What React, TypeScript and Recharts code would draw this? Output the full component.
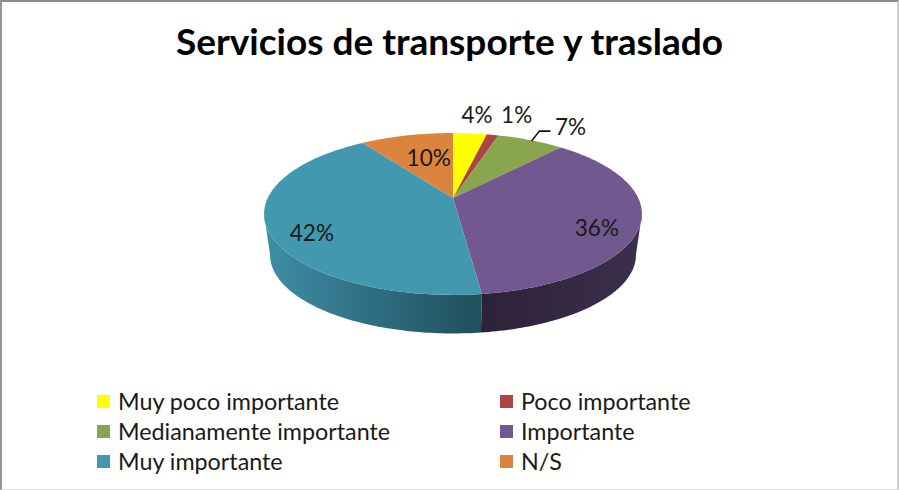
import { PieChart, Pie, Legend } from "recharts";

const TITLE = "Servicios de transporte y traslado";
const CATEGORIES = [
  "Muy poco importante",
  "Poco importante",
  "Medianamente importante",
  "Importante",
  "Muy importante",
  "N/S",
];
const VALUES = [3.5, 1.2, 6.9, 36.4, 42.4, 9.6];
const COLORS = ["#ffff00", "#aa4643", "#89a54e", "#71588f", "#4198af", "#db843d"];
const WALL_GRADIENTS: Record<number, [string, string]> = {
  3: ["#2c2238", "#3c2f4c"],
  4: ["#3f8ea6", "#204e5c"],
};
// label offset from the rim point at each slice's mid angle
const LABEL_OFFSETS = [
  [7, -19],
  [24, -20],
  [40, -14],
  [-44, 5],
  [45, 5],
  [22, 22],
];

const FONT = "Lato, 'Open Sans', sans-serif";
const CX = 453;
const CY = 198;
const RADIUS = 189;
const TILT = 0.197; // perspective of the disc
const STRETCH_X = 0.98;
const STRETCH_Y = 0.4116;
const WALL_DROP = 41;
const WALL_SCALE_X = 183 / 189;
const WALL_SCALE_Y = 0.97;
const ELLIPSE_CY = 214;

const chartData = CATEGORIES.map((name, i) => ({ name, value: VALUES[i], fill: COLORS[i] }));

// theta: degrees clockwise from 12 o'clock
function rim(theta: number) {
  const t = (theta * Math.PI) / 180;
  const u = Math.sin(t);
  const v = -Math.cos(t);
  const w = 1 - TILT * v;
  return {
    x: CX + (RADIUS * STRETCH_X * u) / w,
    y: CY + (RADIUS * STRETCH_Y * v) / w,
  };
}

function rimBottom(theta: number) {
  const p = rim(theta);
  return {
    x: CX + (p.x - CX) * WALL_SCALE_X,
    y: ELLIPSE_CY + WALL_DROP + (p.y - ELLIPSE_CY) * WALL_SCALE_Y,
  };
}

function sample(from: number, to: number, fn: (t: number) => { x: number; y: number }) {
  const n = Math.max(2, Math.ceil(Math.abs(to - from)));
  const out: string[] = [];
  for (let i = 0; i <= n; i++) {
    const p = fn(from + ((to - from) * i) / n);
    out.push(`${p.x.toFixed(2)} ${p.y.toFixed(2)}`);
  }
  return out;
}

const FRONT_START = (Math.acos(-TILT) * 180) / Math.PI;
const FRONT_END = 360 - FRONT_START;

function Slice3D(props: any) {
  const from = 90 - props.startAngle;
  const to = 90 - props.endAngle;
  const idx = CATEGORIES.indexOf(props.name);
  const top = `M${CX} ${CY} L${sample(from, to, rim).join(" L")} Z`;

  const wallFrom = Math.max(from, FRONT_START);
  const wallTo = Math.min(to, FRONT_END);
  let wall = null;
  if (wallTo > wallFrom) {
    const grad = WALL_GRADIENTS[idx] ?? [props.fill, props.fill];
    const id = `wall-${idx}`;
    const path = `M${sample(wallFrom, wallTo, rim).join(" L")} L${sample(wallTo, wallFrom, rimBottom).join(" L")} Z`;
    wall = (
      <g>
        <defs>
          <linearGradient id={id} x1="0" y1="0" x2="1" y2="0">
            <stop offset="0%" stopColor={grad[0]} />
            <stop offset="100%" stopColor={grad[1]} />
          </linearGradient>
        </defs>
        <path d={path} fill={`url(#${id})`} />
      </g>
    );
  }
  return (
    <g>
      {wall}
      <path d={top} fill={props.fill} />
    </g>
  );
}

function SliceLabel(props: any) {
  const { index, midAngle, percent } = props;
  const anchor = rim(90 - midAngle);
  const [dx, dy] = LABEL_OFFSETS[index];
  const x = anchor.x + dx;
  const y = anchor.y + dy;
  return (
    <g>
      {index === 2 && (
        <path
          d={`M${anchor.x + 1} ${anchor.y + 1} L${anchor.x + 9} ${anchor.y - 9} L${anchor.x + 20} ${anchor.y - 9}`}
          fill="none"
          stroke="#111"
          strokeWidth={1.6}
        />
      )}
      <text x={x} y={y} textAnchor="middle" dominantBaseline="central" fontFamily={FONT} fontSize={22.5} fill="#1a1a1a">
        {`${Math.round(percent * 100)}%`}
      </text>
    </g>
  );
}

function LegendGrid({ payload }: any) {
  return (
    <div
      style={{
        display: "grid",
        gridTemplateColumns: "403px 220px",
        gridAutoRows: "30px",
        fontFamily: FONT,
        fontSize: 23.3,
        color: "#1a1a1a",
      }}
    >
      {(payload ?? []).map((entry: any) => (
        <div key={entry.value} style={{ display: "flex", alignItems: "center", whiteSpace: "nowrap" }}>
          <span style={{ width: 13, height: 13, background: entry.color, marginRight: 8, flexShrink: 0 }} />
          {entry.value}
        </div>
      ))}
    </div>
  );
}

export default function App() {
  return (
    <div
      style={{
        position: "absolute",
        left: 0,
        top: 0,
        width: 899,
        height: 490,
        boxSizing: "border-box",
        background: "#fff",
        borderTop: "2px solid #8c8c8c",
        borderLeft: "2px solid #969696",
        borderRight: "2px solid #cfcfcf",
        borderBottom: "1px solid #dedede",
      }}
    >
      <div
        style={{
          position: "absolute",
          left: -2,
          top: 16,
          width: 899,
          textAlign: "center",
          fontFamily: FONT,
          fontWeight: 700,
          fontSize: 37,
          color: "#000",
          whiteSpace: "nowrap",
        }}
      >
        {TITLE}
      </div>
      <div style={{ position: "absolute", left: -2, top: -2 }}>
        <PieChart width={899} height={490} margin={{ top: 0, right: 0, bottom: 0, left: 0 }}>
          <Pie
            data={chartData}
            dataKey="value"
            nameKey="name"
            cx={CX}
            cy={CY}
            outerRadius={RADIUS}
            startAngle={90}
            endAngle={-270}
            stroke="none"
            legendType="square"
            shape={Slice3D}
            label={SliceLabel}
            labelLine={false}
            isAnimationActive={false}
          />
          <Legend
            content={LegendGrid}
            itemSorter={null}
            wrapperStyle={{ position: "absolute", left: 97, top: 386, width: 640, height: 90 }}
          />
        </PieChart>
      </div>
    </div>
  );
}
